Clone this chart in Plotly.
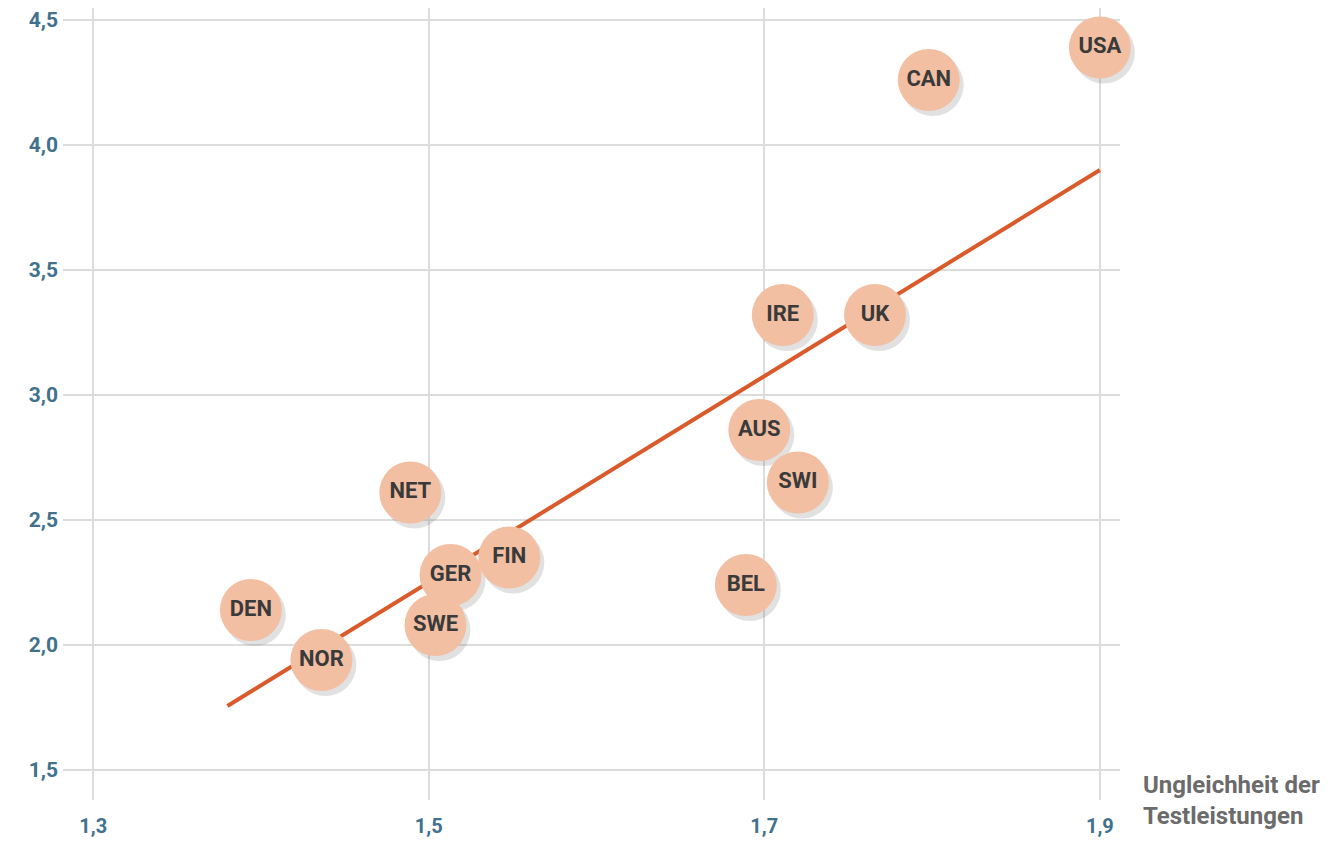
import plotly.graph_objects as go

# Länder und Werte
countries = ['USA', 'CAN', 'IRE', 'UK', 'AUS', 'SWI', 'BEL', 'NET', 'FIN', 'GER', 'SWE', 'DEN', 'NOR']
inequality = [1.90, 1.798, 1.711, 1.766, 1.697, 1.72, 1.689, 1.489, 1.548, 1.513, 1.504, 1.394, 1.436]
social = [4.39, 4.26, 3.32, 3.32, 2.86, 2.65, 2.24, 2.61, 2.35, 2.28, 2.08, 2.14, 1.94]

trend_x = [1.38, 1.90]
trend_y = [1.756, 3.90]

x_ticks = [1.3, 1.5, 1.7, 1.9]
y_ticks = [1.5, 2.0, 2.5, 3.0, 3.5, 4.0, 4.5]

x_range = [1.282, 1.912]
y_range = [1.38, 4.548]

font_narrow = "Liberation Sans Narrow, Roboto, sans-serif"

W, H = 1332, 836
margin = dict(l=55, r=220, t=0, b=44)

# kleiner Schatten unten rechts, in Pixel umgerechnet
plot_w = W - margin['l'] - margin['r']
plot_h = H - margin['t'] - margin['b']
dx = 4 * (x_range[1] - x_range[0]) / plot_w
dy = 5 * (y_range[1] - y_range[0]) / plot_h

fig = go.Figure()

fig.add_trace(go.Scatter(
    x=trend_x, y=trend_y, mode='lines',
    line=dict(color='#D95A2B', width=4), hoverinfo='skip'))

fig.add_trace(go.Scatter(
    x=[v + dx for v in inequality], y=[v - dy for v in social], mode='markers',
    marker=dict(size=62, color='rgba(120,120,120,0.22)', line=dict(width=0)),
    cliponaxis=False, hoverinfo='skip'))

fig.add_trace(go.Scatter(
    x=inequality, y=social, mode='markers+text', text=countries,
    textposition='middle center', cliponaxis=False,
    textfont=dict(family=font_narrow, size=22, color='#3a3a3a', weight='bold'),
    marker=dict(size=62, color='#F2BFA3', line=dict(width=0))))

fig.update_xaxes(
    range=x_range, tickvals=x_ticks, automargin=False,
    ticktext=[f"{v:.1f}".replace('.', ',') for v in x_ticks],
    showgrid=True, gridcolor='#DCDCDC', gridwidth=2, zeroline=False,
    showline=False, ticks='', ticklabelstandoff=12,
    tickfont=dict(family=font_narrow, size=20, color='#41718C', weight='bold'))
fig.update_yaxes(
    range=y_range, tickvals=y_ticks, automargin=False,
    ticktext=[f"{v:.1f}".replace('.', ',') for v in y_ticks],
    showgrid=True, gridcolor='#DCDCDC', gridwidth=2, zeroline=False,
    showline=False, ticks='', ticklabelstandoff=4,
    tickfont=dict(family=font_narrow, size=21, color='#41718C', weight='bold'))

fig.add_annotation(
    x=1.02, y=0.0, xref='paper', yref='paper', xanchor='left', yanchor='middle',
    text='Ungleichheit der<br>Testleistungen', showarrow=False, align='left',
    font=dict(family=font_narrow, size=24, color='#6b6b6b', weight='bold'))

fig.update_layout(
    width=W, height=H, showlegend=False, margin=margin,
    paper_bgcolor='white', plot_bgcolor='white')

fig.write_html("out.html")
